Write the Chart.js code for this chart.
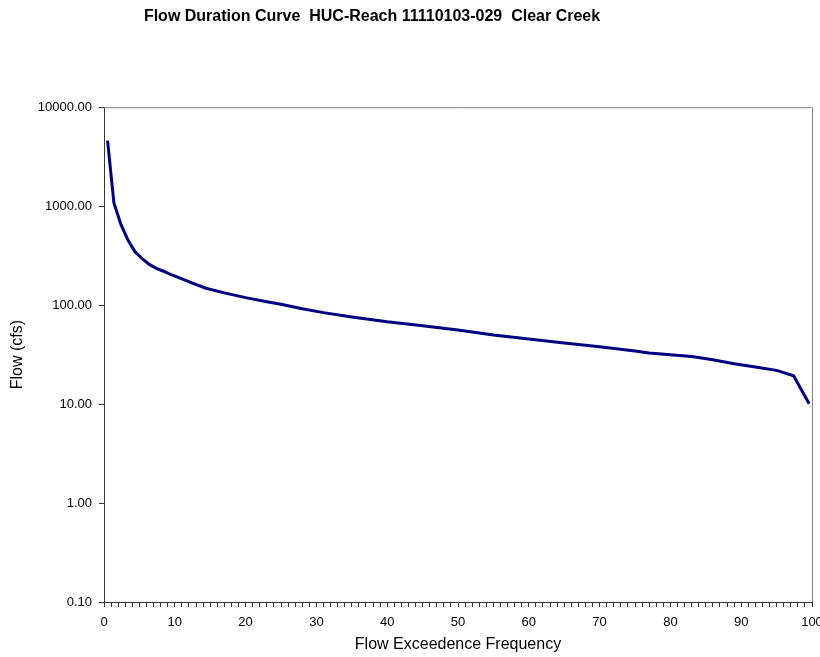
<!DOCTYPE html>
<html>
<head>
<meta charset="utf-8">
<script src="https://cdn.jsdelivr.net/npm/chart.js@4/dist/chart.umd.min.js"></script>
<style>
  html, body { margin: 0; padding: 0; background: #fff; }
  #wrap { width: 820px; height: 657px; }
</style>
</head>
<body>
<div id="wrap"><canvas id="fdc" width="820" height="657"></canvas></div>
<script>
// flow exceedence frequency (%) and flow (cfs)
const exceedence = [0.5, 1.4, 2.4, 3.4, 4.4, 5.4, 6.4, 7.4, 8.4, 9.4, 10.4, 12.4, 14.4, 17, 20, 23, 25, 28, 31, 35,
                    40, 45, 50, 55, 60, 65, 70, 75, 77, 80, 83, 86, 89, 92, 95, 97.4, 99.6];
const flowCfs = [4600, 1080, 650, 451, 343, 295, 258, 235, 220, 205, 192, 168, 148, 133, 119, 108, 102, 92, 84, 76,
                 68, 62, 56, 50, 45.5, 41.5, 38, 34.3, 32.9, 31.5, 30.2, 28, 25.6, 23.7, 21.9, 19.3, 10.1];
const yTicks = [0.1, 1, 10, 100, 1000, 10000];

const chartTitle = 'Flow Duration Curve  HUC-Reach 11110103-029  Clear Creek';
const xTitle = 'Flow Exceedence Frequency';
const yTitle = 'Flow (cfs)';

const points = exceedence.map((x, i) => ({ x: x, y: flowCfs[i] }));
const font = 'Liberation Sans, Arial, sans-serif';

// gray top/right frame like the excel plot area
const frame = {
    id: 'frame',
    afterLayout(chart) {
        // title in the original sits a bit left of the page centre
        if (chart.titleBlock) {
            chart.titleBlock.left = 0;
            chart.titleBlock.right = 744;
        }
    },
    afterDraw(chart) {
        const a = chart.chartArea;
        const c = chart.ctx;
        c.save();
        c.strokeStyle = '#808080';
        c.lineWidth = 1;
        c.beginPath();
        c.moveTo(a.left, a.top + 0.5);
        c.lineTo(a.right + 0.5, a.top + 0.5);
        c.lineTo(a.right + 0.5, a.bottom);
        c.stroke();
        c.restore();
    }
};

new Chart(document.getElementById('fdc').getContext('2d'), {
    type: 'line',
    data: {
        datasets: [{
            data: points,
            borderColor: '#000080',
            borderWidth: 3,
            pointRadius: 0,
            tension: 0,
            fill: false
        }]
    },
    options: {
        responsive: false,
        animation: false,
        layout: { padding: { left: 0, right: 0, top: 0, bottom: 0 } },
        plugins: {
            legend: { display: false },
            tooltip: { enabled: false },
            title: {
                display: true,
                text: chartTitle,
                color: '#000',
                font: { family: font, size: 16, weight: 'bold' },
                padding: { top: 7, bottom: 81 }
            }
        },
        scales: {
            x: {
                type: 'linear',
                min: 0,
                max: 100,
                afterFit(s) { s.height = 55; s.paddingRight = 8; s.paddingLeft = 0; },
                ticks: {
                    stepSize: 1,
                    autoSkip: false,
                    maxRotation: 0,
                    padding: 8,
                    color: '#000',
                    font: { family: font, size: 13 },
                    callback: v => (v % 10 === 0 ? String(v) : '')
                },
                grid: { drawOnChartArea: false, tickLength: 5, color: '#333' },
                border: { color: '#333' },
                title: {
                    display: true,
                    text: xTitle,
                    color: '#000',
                    font: { family: font, size: 16 },
                    padding: { top: 0, bottom: 3 }
                }
            },
            y: {
                type: 'logarithmic',
                min: 0.1,
                max: 10000,
                afterFit(s) { s.width = 104; },
                afterBuildTicks(s) { s.ticks = yTicks.map(v => ({ value: v })); },
                ticks: {
                    padding: 7,
                    color: '#000',
                    font: { family: font, size: 13 },
                    callback: v => Number(v).toFixed(2)
                },
                grid: { drawOnChartArea: false, tickLength: 5, color: '#333' },
                border: { color: '#333' },
                title: {
                    display: true,
                    text: yTitle,
                    color: '#000',
                    font: { family: font, size: 16 },
                    padding: { top: 8, bottom: 0 }
                }
            }
        }
    },
    plugins: [frame]
});
</script>
</body>
</html>
